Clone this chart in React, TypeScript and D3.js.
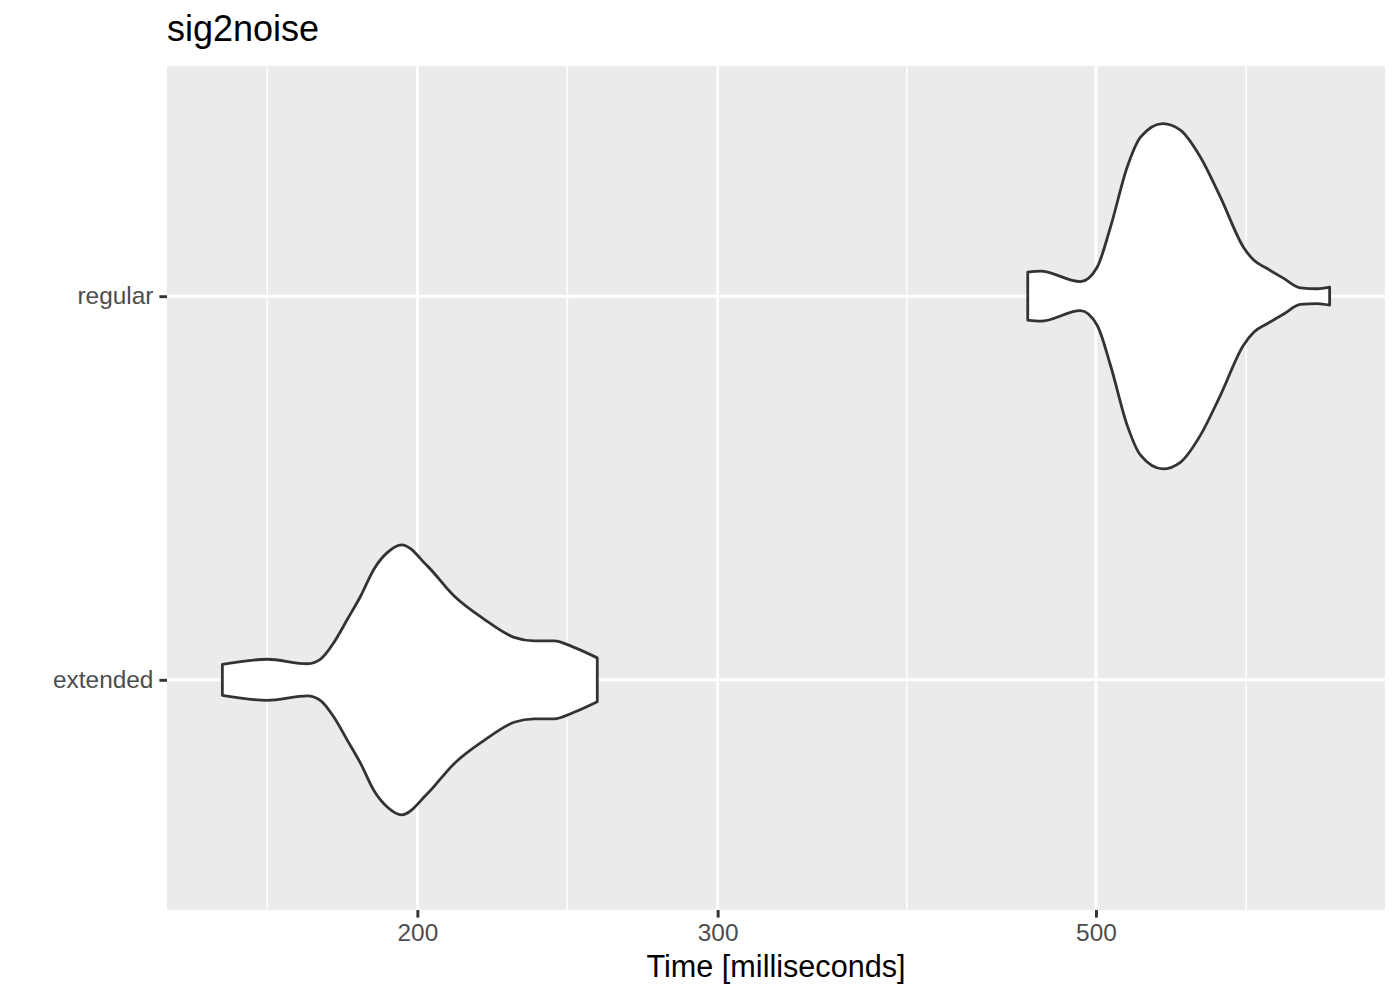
import { useRef, useEffect } from "react";
import * as d3 from "d3";

const categories = ["extended", "regular"];

// violin outlines: time (ms) and relative density (1 = widest)
const regularTime = [456.0, 463.9, 489.6, 500.8, 509.9, 521.5, 531.0, 547.2, 560.4, 575.8, 591.5, 610.2, 618.7, 630.0, 644.3, 659.0, 674.1, 685.5];
const regularDensity = [0.139, 0.145, 0.084, 0.168, 0.4, 0.747, 0.921, 1.0, 0.962, 0.805, 0.574, 0.284, 0.209, 0.16, 0.103, 0.048, 0.043, 0.052];

const extendedTime = [153.7, 163.3, 172.4, 175.5, 178.7, 182.0, 185.3, 188.6, 192.1, 195.8, 202.7, 210.1, 218.8, 227.9, 234.1, 240.5, 247.1, 255.0];
const extendedDensity = [0.09, 0.119, 0.093, 0.12, 0.217, 0.352, 0.487, 0.641, 0.738, 0.782, 0.66, 0.487, 0.352, 0.246, 0.226, 0.226, 0.188, 0.127];

const xTicks = [200, 300, 500];
const xMinorTicks = [163.3, 244.9, 387.3, 612.4];

const title = "sig2noise";
const xTitle = "Time [milliseconds]";

const FONT = "'Liberation Sans', Arial, Helvetica, sans-serif";

const App = () => {
  const svgRef = useRef<SVGSVGElement | null>(null);
  const width = 1400;
  const height = 1000;

  useEffect(() => {
    if (!svgRef.current) return;
    const svg = d3.select(svgRef.current);
    svg.selectAll("*").remove();

    const margin = { top: 66, right: 15, bottom: 90, left: 167 };
    const innerWidth = width - margin.left - margin.right;
    const innerHeight = height - margin.top - margin.bottom;

    const violins = [
      { cat: "extended", pts: extendedTime.map((t, i) => ({ t, d: extendedDensity[i] })) },
      { cat: "regular", pts: regularTime.map((t, i) => ({ t, d: regularDensity[i] })) },
    ];

    // log scale, expanded 5% each side like ggplot
    const allT = [...extendedTime, ...regularTime];
    const lo = Math.log10(d3.min(allT) as number);
    const hi = Math.log10(d3.max(allT) as number);
    const pad = (hi - lo) * 0.05;
    const xScale = d3
      .scaleLog()
      .domain([10 ** (lo - pad), 10 ** (hi + pad)])
      .range([0, innerWidth]);

    const yScale = d3
      .scalePoint<string>()
      .domain(categories)
      .range([innerHeight, 0])
      .padding(0.6);

    const halfW = 0.45 * yScale.step();

    const g = svg
      .append("g")
      .attr("transform", `translate(${margin.left},${margin.top})`);

    g.append("rect")
      .attr("width", innerWidth)
      .attr("height", innerHeight)
      .attr("fill", "#EBEBEB");

    g.selectAll(".minor")
      .data(xMinorTicks)
      .join("line")
      .attr("x1", (d) => xScale(d))
      .attr("x2", (d) => xScale(d))
      .attr("y1", 0)
      .attr("y2", innerHeight)
      .attr("stroke", "white")
      .attr("stroke-width", 1.5);

    g.selectAll(".majorx")
      .data(xTicks)
      .join("line")
      .attr("x1", (d) => xScale(d))
      .attr("x2", (d) => xScale(d))
      .attr("y1", 0)
      .attr("y2", innerHeight)
      .attr("stroke", "white")
      .attr("stroke-width", 2.9);

    g.selectAll(".majory")
      .data(categories)
      .join("line")
      .attr("x1", 0)
      .attr("x2", innerWidth)
      .attr("y1", (d) => yScale(d) as number)
      .attr("y2", (d) => yScale(d) as number)
      .attr("stroke", "white")
      .attr("stroke-width", 2.9);

    violins.forEach((v) => {
      const cy = yScale(v.cat) as number;
      const area = d3
        .area<{ t: number; d: number }>()
        .x((p) => xScale(p.t))
        .y0((p) => cy + p.d * halfW)
        .y1((p) => cy - p.d * halfW)
        .curve(d3.curveMonotoneX);
      g.append("path")
        .datum(v.pts)
        .attr("d", area)
        .attr("fill", "white")
        .attr("stroke", "#333333")
        .attr("stroke-width", 2.8)
        .attr("stroke-linejoin", "round");
    });

    const xAxis = g
      .append("g")
      .attr("transform", `translate(0,${innerHeight})`)
      .call(
        d3.axisBottom(xScale).tickValues(xTicks).tickFormat((d) => String(d)).tickSize(7.6).tickPadding(6)
      );
    const yAxis = g
      .append("g")
      .call(d3.axisLeft(yScale).tickSize(7.6).tickPadding(6));

    [xAxis, yAxis].forEach((ax) => {
      ax.select(".domain").remove();
      ax.selectAll(".tick line").attr("stroke", "#333333").attr("stroke-width", 2.9);
      ax.selectAll(".tick text")
        .attr("fill", "#4D4D4D")
        .style("font-size", "24.4px")
        .style("font-family", FONT);
    });

    svg
      .append("text")
      .attr("x", margin.left)
      .attr("y", 41)
      .attr("fill", "black")
      .style("font-size", "36px")
      .style("font-family", FONT)
      .text(title);

    svg
      .append("text")
      .attr("x", margin.left + innerWidth / 2)
      .attr("y", 977)
      .attr("text-anchor", "middle")
      .attr("fill", "black")
      .style("font-size", "30.6px")
      .style("font-family", FONT)
      .text(xTitle);
  }, []);

  return (
    <div style={{ position: "absolute", left: 0, top: 0 }}>
      <svg ref={svgRef} width={width} height={height} style={{ display: "block", background: "white" }}></svg>
    </div>
  );
};

export default App;
